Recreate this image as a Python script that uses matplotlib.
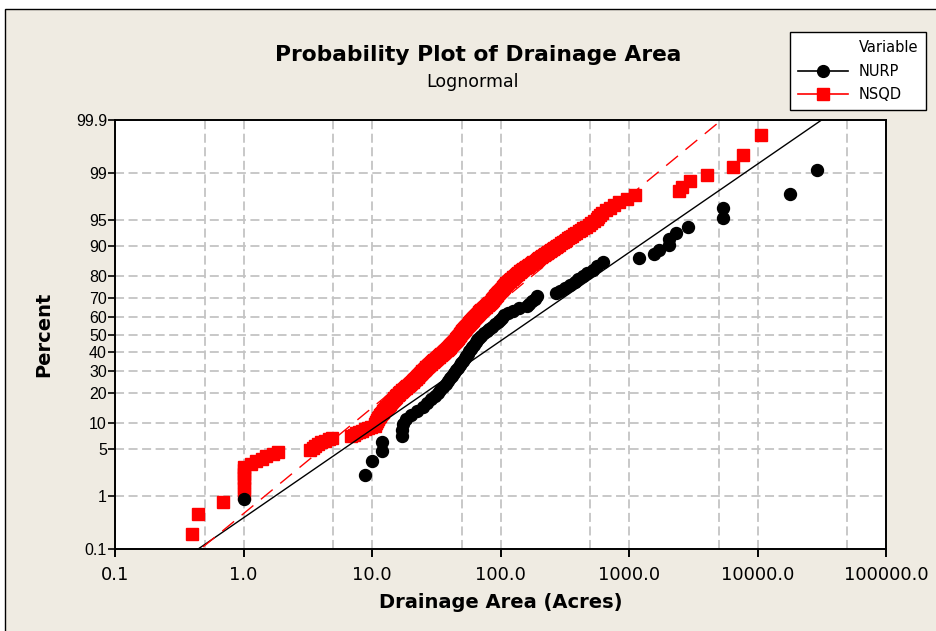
"""
Lognormal probability plot of drainage area for the NURP and NSQD
monitoring sites: sorted areas against median-rank plotting positions,
with the fitted lognormal line for each data set.
"""
from statistics import NormalDist

import matplotlib as mpl
import matplotlib.pyplot as plt
import numpy as np
from matplotlib.lines import Line2D
from matplotlib.patches import Rectangle
from matplotlib.ticker import FixedLocator, NullLocator

# Drainage areas (acres), sorted ascending
NURP_AREA = [
    1.0, 8.8, 10.0, 12.0, 12.0, 17.0, 17.0, 17.5, 18.3, 20.0,
    22.5, 25.0, 27.0, 29.0, 31.0, 32.5, 34.0, 36.0, 37.5, 39.0,
    40.5, 42.0, 43.5, 45.0, 46.5, 48.0, 49.5, 51.0, 52.5, 54.0,
    55.5, 57.0, 58.5, 60.0, 62.0, 64.0, 66.0, 68.5, 71.0, 74.0,
    78.0, 82.0, 86.0, 91.0, 95.0, 99.0, 102, 106, 115, 126,
    140, 160, 168, 176, 184, 192, 270, 290, 320, 345,
    380, 400, 440, 470, 520, 560, 630, 1200, 1570, 1720,
    2050, 2050, 2310, 2890, 5420, 5420, 17900, 28900,
]

NSQD_AREA = [
    0.40, 0.445, 0.69, 1.0, 1.0, 1.0, 1.0, 1.0, 1.0, 1.0,
    1.15, 1.25, 1.4, 1.5, 1.7, 1.85,
    3.3, 3.45, 3.6, 3.8, 4.0, 4.3, 4.6, 4.9,
    6.9, 7.2, 7.5, 7.9, 8.3, 8.8, 9.3, 9.8,
    10.5, 10.6, 10.7, 10.8, 10.9, 11.0, 11.1, 11.2,
    11.3, 11.5, 11.6, 11.8, 11.9, 12.1, 12.2, 12.4, 12.6,
    12.8, 12.9, 13.1, 13.3, 13.5, 13.7, 13.8, 14.0, 14.1, 14.3, 14.5,
    14.7, 14.9, 15.1, 15.3, 15.5, 15.7, 15.9, 16.1, 16.3, 16.5,
    16.7, 17.0, 17.2, 17.5, 17.8, 18.0, 18.3, 18.5, 18.8, 19.0,
    19.3, 19.6, 19.9, 20.2, 20.5,
    20.7, 20.9, 21.2, 21.4, 21.6, 21.9, 22.1, 22.3, 22.6, 22.8,
    23.0, 23.3, 23.5, 23.8, 24.0,
    24.2, 24.5, 24.7, 25.0, 25.3, 25.5, 25.8, 26.0, 26.3, 26.5,
    26.8, 27.1, 27.4, 27.7, 28.0,
    28.3, 28.6, 29.0, 29.3, 29.6, 30.0, 30.3, 30.6, 31.0, 31.3,
    31.6, 32.0, 32.3, 32.7, 33.0,
    33.4, 33.8, 34.2, 34.6, 35.0, 35.4, 35.8, 36.2, 36.6, 37.0,
    37.3, 37.7, 38.0,
    38.3, 38.7, 39.0, 39.4, 39.7, 40.1, 40.4, 40.8, 41.1, 41.5,
    41.8, 42.2, 42.5, 42.9, 43.2, 43.6, 44.0,
    44.3, 44.7, 45.0, 45.3, 45.7, 46.0, 46.3, 46.7, 47.0, 47.3,
    47.7, 48.0, 48.3, 48.7, 49.0,
    49.4, 49.8, 50.2, 50.6, 51.0, 51.4, 51.8, 52.2, 52.6, 53.0,
    53.4, 53.8, 54.2, 54.6, 55.0,
    55.4, 55.9, 56.4, 56.9, 57.3, 57.8, 58.3, 58.7, 59.2, 59.7,
    60.1, 60.6, 61.0, 61.5, 62.0, 62.5, 63.0, 63.5, 64.0,
    64.6, 65.2, 65.8, 66.4, 67.0, 67.6, 68.2, 68.8, 69.4, 70.2, 71.0,
    71.8, 72.6, 73.4, 74.2, 75.0, 75.9, 76.8, 77.6, 78.5, 79.4,
    80.3, 81.2, 82.1, 83.0,
    83.7, 84.5, 85.2, 86.0, 86.7, 87.5, 88.2, 89.0, 89.7, 90.5,
    91.2, 92.0, 92.7, 93.5, 94.2, 95.0,
    96, 97, 98, 99, 100, 101, 102, 103, 104, 105,
    106, 107, 108, 109, 110, 111, 112,
    114, 116, 118, 119, 121, 123, 125, 126, 128,
    130, 132, 134, 136, 138, 141, 143, 145, 148, 150,
    154, 157, 161, 164, 168, 172, 176, 180, 184, 188,
    192, 196, 200, 205,
    211, 217, 223, 229, 235, 241, 247, 254, 261, 268, 275,
    285, 295, 305, 315, 326, 336, 347, 358,
    374, 390, 406, 423, 441, 460,
    484, 508, 533, 560,
    577, 594, 612,
    660, 710, 765, 830,
    960, 1110,
    2450, 2600, 2985, 4030, 6480, 7670, 10650,
]

# Lognormal fits: mean and std dev of log10(area)
NURP_FIT = (2.073, 0.785)
NSQD_FIT = (1.693, 0.656)

PCT_TICKS = [0.1, 1, 5, 10, 20, 30, 40, 50, 60, 70, 80, 90, 95, 99, 99.9]
PCT_LABELS = ["0.1", "1", "5", "10", "20", "30", "40", "50", "60", "70",
              "80", "90", "95", "99", "99.9"]
X_TICKS = [0.1, 1, 10, 100, 1000, 10000, 100000]
X_LABELS = ["0.1", "1.0", "10.0", "100.0", "1000.0", "10000.0", "100000.0"]
X_GRID_MINOR = [0.5, 5, 50, 500, 5000, 50000]

BG = "#EFEBE2"
GRID = "#C4C4C4"
RED = "#FF0000"

mpl.rcParams.update({
    "font.family": "DejaVu Sans",
    "axes.linewidth": 1.4,
})

z_of = NormalDist().inv_cdf


def plot_positions(n):
    # Benard median ranks, as normal scores
    return np.array([z_of((i - 0.3) / (n + 0.4)) for i in range(1, n + 1)])


fig = plt.figure(figsize=(9.36, 6.31), dpi=100)
fig.patch.set_facecolor("white")
fig.patches.append(Rectangle((5 / 936, -0.05), 1.2, 1.05 - 9.5 / 631,
                             transform=fig.transFigure, facecolor=BG,
                             edgecolor="black", linewidth=1.0, zorder=-10))

ax = fig.add_axes([115 / 936, 1 - 549 / 631, (886 - 115) / 936, (549 - 120) / 631])
ax.set_facecolor("white")
ax.set_xscale("log")

zlo, zhi = z_of(0.001), z_of(0.999)

ax.plot(NSQD_AREA, plot_positions(len(NSQD_AREA)), linestyle="none",
        marker="s", markersize=8.2, color=RED, zorder=3)
ax.plot(NURP_AREA, plot_positions(len(NURP_AREA)), linestyle="none",
        marker="o", markersize=8.6, color="black", zorder=4)

zz = np.array([zlo - 0.2, zhi + 0.2])
mu, sd = NURP_FIT
ax.plot(10 ** (mu + sd * zz), zz, color="black", linewidth=1.0, zorder=5)
mu, sd = NSQD_FIT
ax.plot(10 ** (mu + sd * zz), zz, color=RED, linewidth=1.0,
        dashes=(11, 7), zorder=5)

ax.set_xlim(0.1, 100000)
ax.set_ylim(zlo, zhi)

ax.xaxis.set_major_locator(FixedLocator(X_TICKS))
ax.set_xticklabels(X_LABELS)
ax.xaxis.set_minor_locator(FixedLocator(X_GRID_MINOR))
ax.set_yticks([z_of(p / 100) for p in PCT_TICKS])
ax.set_yticklabels(PCT_LABELS)
ax.yaxis.set_minor_locator(NullLocator())

ax.tick_params(axis="x", which="major", length=6, width=1.4, labelsize=13,
               pad=6)
ax.tick_params(axis="x", which="minor", length=0)
ax.tick_params(axis="y", which="major", length=5, width=1.2, labelsize=11.5,
               pad=0.8)
for lab in ax.get_yticklabels():
    lab.set_family("Liberation Sans")

ax.grid(True, which="both", axis="x", color=GRID, linewidth=1.3,
        dashes=(5, 2.5))
ax.grid(True, which="major", axis="y", color=GRID, linewidth=1.3,
        dashes=(5, 2.5))
ax.set_axisbelow(True)

ax.set_xlabel("Drainage Area (Acres)", fontsize=14, fontweight="bold",
              labelpad=7)
ax.set_ylabel("Percent", fontsize=14, fontweight="bold", labelpad=16)

fig.text(478 / 936, 1 - 55 / 631, "Probability Plot of Drainage Area",
         ha="center", va="center", fontsize=15.7, fontweight="bold")
fig.text(473 / 936, 1 - 82 / 631, "Lognormal", ha="center", va="center",
         fontsize=12.5)

# Legend: first row carries the heading with an empty handle
handles = [
    Line2D([], [], linestyle="none"),
    Line2D([], [], color="black", marker="o", markersize=8.5, linewidth=1.2),
    Line2D([], [], color=RED, marker="s", markersize=8, linewidth=1.2),
]
leg = fig.legend(handles, ["Variable", "NURP", "NSQD"],
                 loc="upper right", bbox_to_anchor=(926 / 936, 1 - 32 / 631),
                 fontsize=10.5, frameon=True,
                 fancybox=False, edgecolor="black", framealpha=1,
                 handlelength=3.4, handletextpad=0.75, labelspacing=0.6,
                 borderpad=0.54, borderaxespad=0)
leg.get_frame().set_linewidth(1.0)

fig.savefig("out.png", dpi=100, facecolor=fig.get_facecolor())
